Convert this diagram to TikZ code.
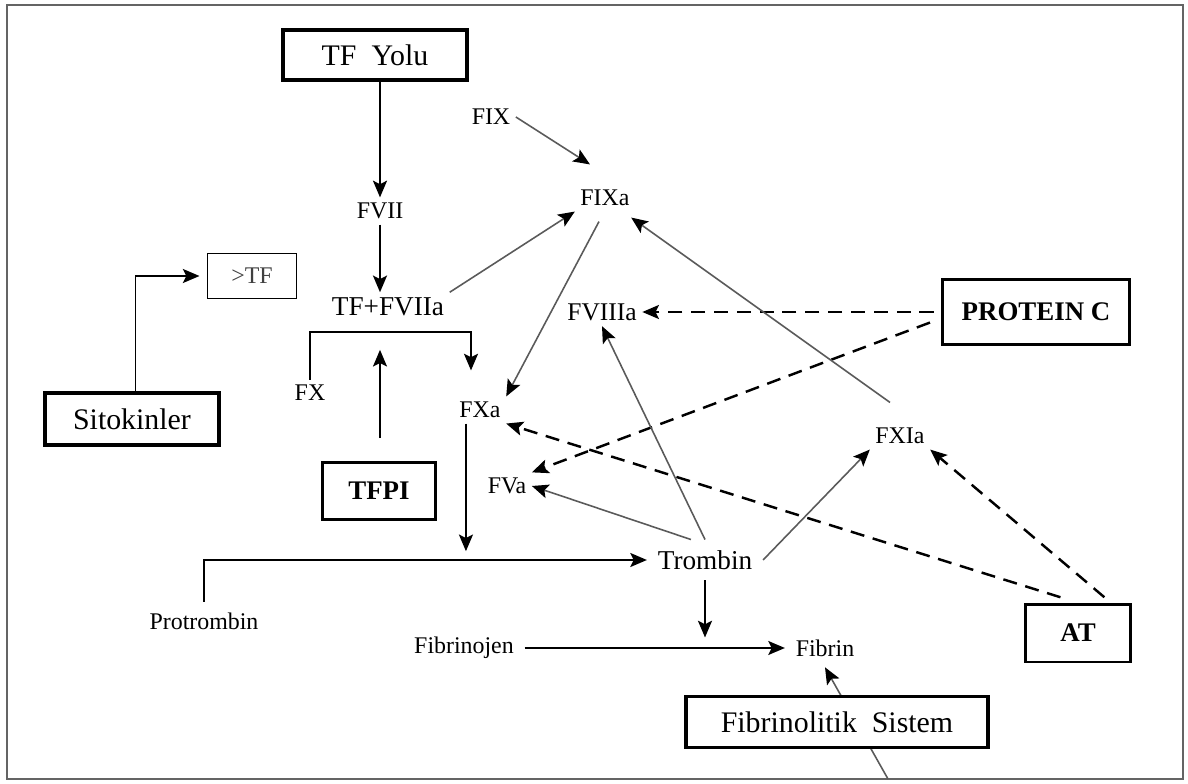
\documentclass[tikz,border=0pt]{standalone}
\usepackage{fontspec}
\setmainfont{Liberation Serif}
\usetikzlibrary{arrows.meta}
\definecolor{linegray}{RGB}{90,90,90}
\definecolor{framegray}{RGB}{100,100,100}

\begin{document}
\begin{tikzpicture}[x=0.02cm,y=-0.02cm,
  lbl/.style={inner sep=3pt,font=\fontsize{13.6}{16}\selectfont},
  bigbox/.style={draw,line width=2pt,fill=white,font=\fontsize{17}{20}\selectfont},
  boldbox/.style={draw,line width=1.7pt,font=\bfseries\fontsize{15.3}{18}\selectfont},
  blk/.style={line width=1.1pt,-{Stealth[length=9.5pt,width=8pt,inset=2pt]}},
  gry/.style={draw=linegray,line width=0.9pt,-{Stealth[length=9.5pt,width=8pt,inset=2pt,color=black]}},
  inh/.style={line width=1.4pt,dash pattern=on 8pt off 5pt,-{Stealth[length=9.5pt,width=8pt,inset=2pt]}}]
\useasboundingbox (0,0) rectangle (1188,784);
% Outer frame
\draw[framegray,line width=1pt] (7,5) rectangle (1183,779);

% Pathway boxes
\node[bigbox,minimum width=3.68cm,minimum height=1cm] (tfyolu) at (375,55) {TF\ \ Yolu};
\node[draw,line width=1.1pt,minimum width=1.78cm,minimum height=0.9cm,text=black!75,font=\fontsize{13.6}{16}\selectfont] (tfbox) at (252,276) {>TF};
\node[bigbox,minimum width=3.48cm,minimum height=1.04cm] (sitokin) at (132,419) {Sitokinler};
\node[boldbox,minimum width=3.76cm,minimum height=1.3cm] (protc) at (1036,312) {PROTEIN C};
\node[boldbox,minimum width=2.28cm,minimum height=1.14cm] (tfpi) at (379,491) {TFPI};
\node[boldbox,minimum width=2.1cm,minimum height=1.16cm] (at) at (1078,633) {AT};

% Factors
\node[lbl] (fix) at (491,117) {FIX};
\node[lbl] (fixa) at (605,198) {FIXa};
\node[lbl] (fvii) at (380,211) {FVII};
\node[lbl,font=\fontsize{15.5}{18}\selectfont] (tffviia) at (388,307) {TF+FVIIa};
\node[lbl,font=\fontsize{14.5}{17}\selectfont] (fviiia) at (602,312) {FVIIIa};
\node[lbl] (fx) at (310,393) {FX};
\node[lbl] (fxa) at (480,410) {FXa};
\node[lbl] (fxia) at (900,436) {FXIa};
\node[lbl] (fva) at (507,486) {FVa};
\node[lbl,inner sep=6pt,font=\fontsize{15.5}{18}\selectfont] (trombin) at (705,560) {Trombin};
\node[lbl,inner sep=6pt] (protrombin) at (204,621) {Protrombin};
\node[lbl,inner sep=6pt] (fibrinojen) at (464,648) {Fibrinojen};
\node[lbl,inner sep=6pt] (fibrin) at (825,648) {Fibrin};

% Extrinsic path
\draw[blk] (tfyolu.south -| fvii) -- (fvii.north);
\draw[blk] (fvii.south) -- (fvii.south |- tffviia.north);
\draw[gry] (tffviia.north east) -- (fixa.south west);
\draw[gry] (fix.east) -- ([shift={(-15,-20)}]fixa.north);
\draw[gry] ([shift={(-6,10)}]fixa.south) -- (fxa.north east);
\draw[blk] (fx.north) |- ([shift={(-9,-64)}]fxa.north) -- ([shift={(-9,-26)}]fxa.north);
\draw[blk,shorten <=13pt,shorten >=16pt] (tfpi.north -| fvii) -- (tffviia.south -| fvii);
\draw[blk] ([xshift=2pt]sitokin.north) |- ([xshift=-4pt]tfbox.west);

% Inhibitors
\draw[inh] ([xshift=-4pt]protc.west) -- (fviiia.east);
\draw[inh] ([shift={(-6pt,-6pt)}]protc.west) -- (fva.north east);
\draw[inh] ([xshift=-10pt,yshift=3pt]at.north) -- (fxa.south east);
\draw[inh] ([xshift=15pt,yshift=3pt]at.north) -- (fxia.south east);

% Thrombin feedback
\draw[gry] ([shift={(-10,-20)}]fxia.north) -- ([shift={(-4,6)}]fixa.south east);
\draw[gry] (trombin.north) -- (fviiia.south);
\draw[gry] ([xshift=-8pt]trombin.north) -- (fva.east);
\draw[gry] (trombin.east) -- (fxia.south west);

% Common path
\draw[blk] ([xshift=-8pt]fxa.south) -- ([xshift=-8pt,yshift=5pt]fxa.south |- trombin.west);
\draw[blk] (protrombin.north) |- (trombin.west);
\draw[blk,shorten >=6pt] (trombin.south) -- (trombin.south |- fibrin.west);
\draw[blk] (fibrinojen.east) -- (fibrin.west);

% Fibrinolysis (box drawn last, over its line)
\coordinate (fbase) at (888,779);
\draw[gry] (fbase) -- (fibrin.south);
\node[bigbox,minimum width=6.04cm,minimum height=1.02cm] (fibsis) at (837,722) {Fibrinolitik\ \ Sistem};
\end{tikzpicture}
\end{document}
